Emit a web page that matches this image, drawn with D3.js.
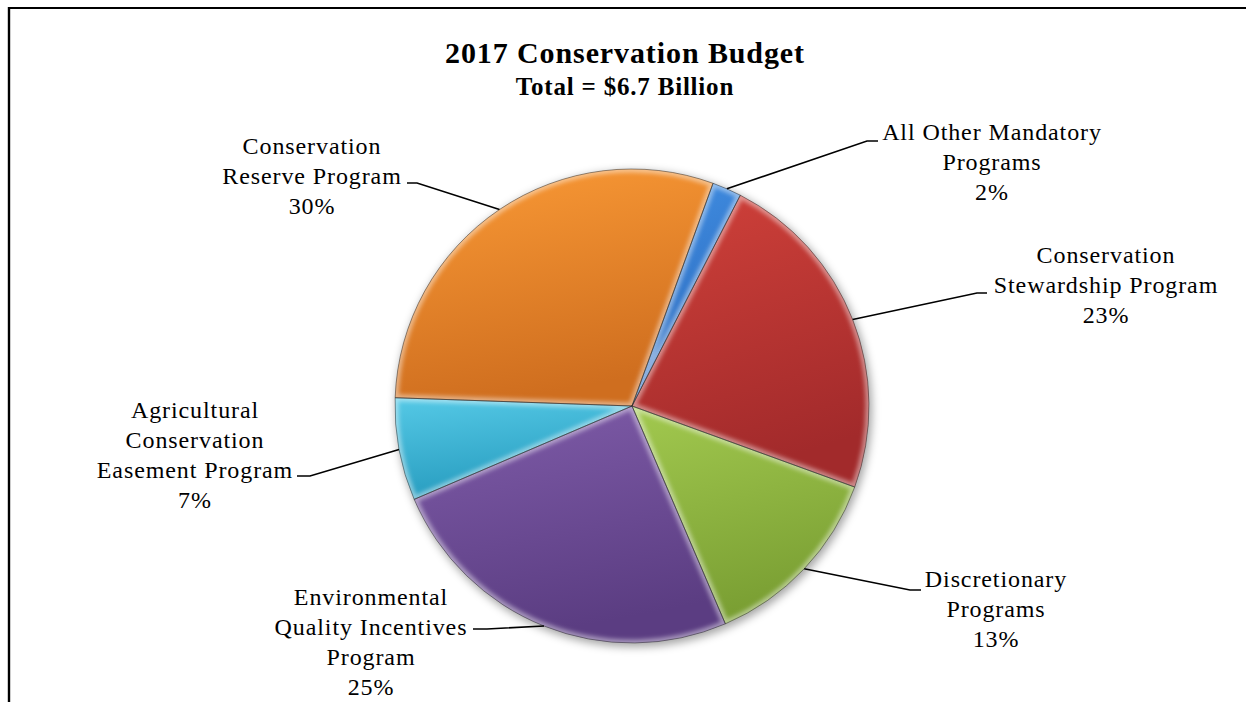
<!DOCTYPE html>
<html>
<head>
<meta charset="utf-8">
<script src="https://cdn.jsdelivr.net/npm/d3@7"></script>
<style>
  html, body { margin: 0; padding: 0; background: #fff; }
  svg { display: block; }
  text { font-family: "Liberation Serif", "Times New Roman", serif; fill: #000; }
</style>
</head>
<body>
<svg id="chart" width="1246" height="702"></svg>
<script>
// 2017 conservation budget shares (percent of $6.7 billion), clockwise
const categories = [
  "All Other Mandatory Programs",
  "Conservation Stewardship Program",
  "Discretionary Programs",
  "Environmental Quality Incentives Program",
  "Agricultural Conservation Easement Program",
  "Conservation Reserve Program"
];
const shares = [2, 23, 13, 25, 7, 30];
const labelLines = [
  ["All Other Mandatory", "Programs"],
  ["Conservation", "Stewardship Program"],
  ["Discretionary", "Programs"],
  ["Environmental", "Quality Incentives", "Program"],
  ["Agricultural", "Conservation", "Easement Program"],
  ["Conservation", "Reserve Program"]
];
const titleText = "2017 Conservation Budget";
const subtitleText = "Total = $6.7 Billion";

// slice colours: [light, dark]
const sliceColors = [
  ["#4290e4", "#2a68bc"],
  ["#d0413a", "#a22a2b"],
  ["#a2c94f", "#7a9f33"],
  ["#7f5ca9", "#5b3d82"],
  ["#55c9e6", "#279cbf"],
  ["#fa9a36", "#cf6e1f"]
];

// label placement: centre x, first baseline, elbow point, end of horizontal tick
const labelLayout = [
  { cx: 992,  y0: 140, elbow: [867, 141], end: [878, 141] },
  { cx: 1106, y0: 263, elbow: [977, 293], end: [987, 293] },
  { cx: 996,  y0: 587, elbow: [910, 590], end: [921, 590] },
  { cx: 371,  y0: 605, elbow: [487, 629], end: [473, 629] },
  { cx: 195,  y0: 418, elbow: [310, 476], end: [297, 476] },
  { cx: 312,  y0: 154, elbow: [417, 183], end: [407, 183] }
];
const lineGap = 30;

const W = 1246, H = 702;
const cx = 632, cy = 406, R = 237;
const startDeg = 20;

const svg = d3.select("#chart");
const defs = svg.append("defs");

// frame (top and left edges visible)
svg.append("line").attr("x1", 9).attr("y1", 8).attr("x2", W).attr("y2", 8)
  .attr("stroke", "#000").attr("stroke-width", 2.2);
svg.append("line").attr("x1", 9).attr("y1", 7).attr("x2", 9).attr("y2", H)
  .attr("stroke", "#000").attr("stroke-width", 2.4);

// title
svg.append("text").attr("x", 625).attr("y", 63).attr("text-anchor", "middle")
  .attr("font-size", 30).attr("font-weight", "bold").attr("letter-spacing", 0.9)
  .text(titleText);
svg.append("text").attr("x", 625).attr("y", 95).attr("text-anchor", "middle")
  .attr("font-size", 25).attr("font-weight", "bold").attr("letter-spacing", 0.8)
  .text(subtitleText);

// filters
const shadow = defs.append("filter").attr("id", "pieShadow")
  .attr("x", "-20%").attr("y", "-20%").attr("width", "140%").attr("height", "140%");
shadow.append("feGaussianBlur").attr("stdDeviation", 4);

const glow = defs.append("filter").attr("id", "bevelBlur")
  .attr("x", "-10%").attr("y", "-10%").attr("width", "120%").attr("height", "120%");
glow.append("feGaussianBlur").attr("stdDeviation", 2.2);

sliceColors.forEach((c, i) => {
  const g = defs.append("linearGradient").attr("id", "sliceGrad" + i)
    .attr("x1", 0).attr("y1", 0).attr("x2", 0.25).attr("y2", 1);
  g.append("stop").attr("offset", "0%").attr("stop-color", c[0]);
  g.append("stop").attr("offset", "100%").attr("stop-color", c[1]);
});

const pie = d3.pie().sort(null).value(d => d)
  .startAngle(startDeg * Math.PI / 180)
  .endAngle(startDeg * Math.PI / 180 + 2 * Math.PI);
const arcs = pie(shares);
const arc = d3.arc().innerRadius(0).outerRadius(R);

const pieG = svg.append("g").attr("transform", `translate(${cx},${cy})`);

// soft shadow under the pie
pieG.append("circle").attr("cx", 2).attr("cy", 3).attr("r", R + 1)
  .attr("fill", "rgba(0,0,0,0.35)").attr("filter", "url(#pieShadow)");

arcs.forEach((a, i) => {
  const clipId = "sliceClip" + i;
  defs.append("clipPath").attr("id", clipId)
    .append("path").attr("d", arc(a)).attr("transform", `translate(${cx},${cy})`);
});

const slices = pieG.selectAll("g.slice").data(arcs).join("g").attr("class", "slice");

slices.append("path")
  .attr("d", arc)
  .attr("fill", (d, i) => `url(#sliceGrad${i})`);

// bevel highlight along each slice edge, kept inside the slice
const bevel = svg.append("g");
arcs.forEach((a, i) => {
  bevel.append("g").attr("clip-path", `url(#sliceClip${i})`)
    .append("path")
    .attr("transform", `translate(${cx},${cy})`)
    .attr("d", arc(a))
    .attr("fill", "none")
    .attr("stroke", "rgba(255,255,255,0.45)")
    .attr("stroke-width", 7)
    .attr("filter", "url(#bevelBlur)");
});

// thin dark outlines between slices
svg.append("g").attr("transform", `translate(${cx},${cy})`)
  .selectAll("path").data(arcs).join("path")
  .attr("d", arc)
  .attr("fill", "none")
  .attr("stroke", "rgba(40,40,40,0.55)")
  .attr("stroke-width", 0.9);

// leader lines
const edgeArc = d3.arc().innerRadius(R).outerRadius(R);
arcs.forEach((a, i) => {
  const c = edgeArc.centroid(a);
  const L = labelLayout[i];
  svg.append("polyline")
    .attr("points", [[cx + c[0], cy + c[1]], L.elbow, L.end].map(p => p.join(",")).join(" "))
    .attr("fill", "none").attr("stroke", "#000").attr("stroke-width", 1.6);
});

// data labels: name lines then percentage
arcs.forEach((a, i) => {
  const L = labelLayout[i];
  const lines = labelLines[i].concat([shares[i] + "%"]);
  const t = svg.append("text").attr("text-anchor", "middle")
    .attr("font-size", 24).attr("letter-spacing", 0.9);
  lines.forEach((s, k) => {
    t.append("tspan").attr("x", L.cx).attr("y", L.y0 + k * lineGap).text(s);
  });
});
</script>
</body>
</html>
